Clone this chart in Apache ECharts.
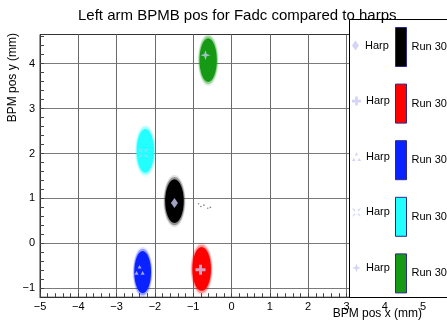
<!DOCTYPE html>
<html>
<head>
<meta charset="utf-8">
<script src="https://cdn.jsdelivr.net/npm/echarts@6/dist/echarts.min.js"></script>
<style>
  html, body { margin: 0; padding: 0; background: #fff; }
  #myChart { width: 447px; height: 320px; }
</style>
</head>
<body>
<div id="myChart"></div>
<script>
// values (mm)
const runNames = ['Run 3030', 'Run 3031', 'Run 3032', 'Run 3033', 'Run 3034'];
const harpNames = ['Harp 1', 'Harp 2', 'Harp 3', 'Harp 4', 'Harp 5'];
const runColors = ['#000000', '#ff0000', '#0a22ff', '#22ffff', '#169a16'];
// centre and half extent of each BPM cloud
const clusterX = [-1.49, -0.78, -2.32, -2.25, -0.61];
const clusterY = [0.94, -0.57, -0.64, 2.06, 4.08];
const spreadX = [0.29, 0.29, 0.26, 0.27, 0.27];
const spreadY = [0.58, 0.58, 0.56, 0.58, 0.58];
// harp positions
const harpX = [-1.49, -0.81, -2.40, -2.30, -0.68];
const harpY = [0.90, -0.59, -0.59, 2.01, 4.19];
// a few stray black points right of the black cloud
const strayX = [-0.86, -0.80, -0.72, -0.62, -0.55];
const strayY = [0.88, 0.82, 0.85, 0.78, 0.80];

const harpColor = '#c9c9f4';
const harpSymbols = [
    'path://M5,0L8.5,5L5,10L1.5,5Z',
    'path://M3.5,0H6.5V3.5H10V6.5H6.5V10H3.5V6.5H0V3.5H3.5Z',
    'path://M5,0L6.8,3.4H3.2Z M2.2,5.6L4,9H0.4Z M7.8,5.6L9.6,9H6Z',
    'path://M0,0L4,2.5L2.5,4Z M10,0L7.5,4L6,2.5Z M0,10L2.5,6L4,7.5Z M10,10L6,7.5L7.5,6Z',
    'path://M5,0L6.2,3.8L10,5L6.2,6.2L5,10L3.8,6.2L0,5L3.8,3.8Z'
];

const font = 'Liberation Sans, Arial, sans-serif';
const myChart = echarts.init(document.getElementById('myChart'));

function intLabel(v) {
    const r = Math.round(v);
    if (Math.abs(v - r) > 1e-6) return '';
    return r < 0 ? '\u2212' + Math.abs(r) : String(r);
}

function cloud(params, api) {
    const c = api.coord([api.value(0), api.value(1)]);
    const s = api.size([api.value(2), api.value(3)]);
    const color = api.visual('color');
    const layers = [[1, 0.12], [0.93, 0.35], [0.84, 1]];
    return {
        type: 'group',
        children: layers.map(l => ({
            type: 'ellipse',
            shape: { cx: c[0], cy: c[1], rx: s[0] * l[0], ry: s[1] * l[0] },
            style: { fill: color, opacity: l[1] }
        }))
    };
}

const series = [];
runNames.forEach((name, i) => {
    series.push({
        name: name,
        type: 'custom',
        renderItem: cloud,
        clip: true,
        itemStyle: { color: runColors[i] },
        data: [[clusterX[i], clusterY[i], spreadX[i], spreadY[i]]],
        z: 2
    });
});
series.push({
    type: 'scatter',
    symbolSize: 1.6,
    itemStyle: { color: '#666' },
    data: strayX.map((x, i) => [x, strayY[i]]),
    z: 3
});
harpNames.forEach((name, i) => {
    series.push({
        name: name,
        type: 'scatter',
        symbol: harpSymbols[i],
        symbolSize: 10,
        symbolKeepAspect: true,
        itemStyle: { color: harpColor },
        data: [[harpX[i], harpY[i]]],
        z: 5
    });
});

const textStyle = { fontFamily: font, fontSize: 11, color: '#000' };
// one legend per harp row so rows line up with the run boxes
const harpLegends = harpNames.map((n, i) => ({
    data: [{ name: n, icon: harpSymbols[i] }],
    formatter: () => 'Harp',
    left: 352, top: 40 + i * 55.6,
    padding: 0,
    itemWidth: 9, itemHeight: 10, itemTextGap: 4,
    symbolKeepAspect: true,
    selectedMode: false,
    textStyle: textStyle,
    z: 110
}));

const option = {
    animation: false,
    title: {
        text: 'Left arm BPMB pos for Fadc compared to harps',
        left: 73,
        top: 3,
        z: 120,
        textStyle: { fontFamily: font, fontSize: 15, fontWeight: 'normal', color: '#000' }
    },
    grid: {
        left: 40, right: 4.8, top: 34.5, bottom: 22.8,
        show: true, borderColor: '#333', borderWidth: 1
    },
    xAxis: {
        type: 'value',
        min: -5, max: 5.5, interval: 0.2,
        axisLine: { onZero: false, lineStyle: { color: '#333' } },
        axisTick: { inside: true, length: 4, lineStyle: { color: '#444' } },
        axisLabel: { formatter: intLabel, color: '#000', fontFamily: font, fontSize: 11, margin: 4,
            showMinLabel: true, showMaxLabel: false },
        splitLine: { show: true, lineStyle: { color: ['#6a6a6a', 'transparent', 'transparent', 'transparent', 'transparent'], width: 1 } }
    },
    yAxis: {
        type: 'value',
        min: -1.2, max: 4.65, interval: 0.2,
        axisLine: { onZero: false, lineStyle: { color: '#333' } },
        axisTick: { inside: true, length: 4, lineStyle: { color: '#444' } },
        axisLabel: { formatter: intLabel, color: '#000', fontFamily: font, fontSize: 11, margin: 5,
            showMinLabel: false, showMaxLabel: false },
        splitLine: { show: true, lineStyle: { color: ['transparent', '#7a7a7a', 'transparent', 'transparent', 'transparent'], width: 1 } }
    },
    legend: harpLegends.concat([
        {
            data: runNames,
            icon: 'rect',
            orient: 'vertical',
            left: 395, top: 27,
            padding: 0,
            itemWidth: 11, itemHeight: 39, itemGap: 16.6, itemTextGap: 2,
            selectedMode: false,
            itemStyle: { borderColor: '#2a2a8a', borderWidth: 1 },
            textStyle: textStyle,
            z: 110
        }
    ]),
    graphic: [
        {
            type: 'rect', z: 100,
            shape: { x: 349.5, y: 19.5, width: 110, height: 278 },
            style: { fill: '#fff', stroke: '#000', lineWidth: 1 }
        },
        {
            type: 'text', z: 100,
            x: 13, y: 33, rotation: Math.PI / 2,
            style: { text: 'BPM pos y (mm)', fontFamily: font, fontSize: 12, fill: '#000',
                textAlign: 'right', textVerticalAlign: 'middle' }
        },
        {
            type: 'text', z: 100,
            x: 422, y: 314,
            style: { text: 'BPM pos x (mm)', fontFamily: font, fontSize: 12, fill: '#000',
                textAlign: 'right', textVerticalAlign: 'middle' }
        }
    ],
    series: series
};
myChart.setOption(option);
window.addEventListener('resize', myChart.resize);
</script>
</body>
</html>
